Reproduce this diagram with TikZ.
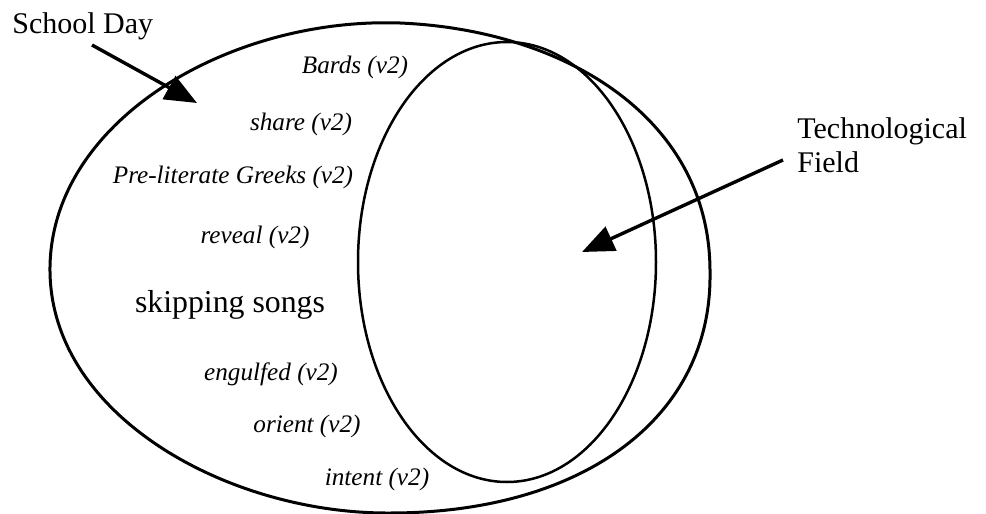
\documentclass[tikz,border=0pt]{standalone}
\usepackage{fontspec}
\setmainfont{Liberation Serif}
\usetikzlibrary{arrows.meta}

\begin{document}
\begin{tikzpicture}[x=0.5pt, y=-0.5pt, >={Triangle[length=16pt, width=13pt]},
    field/.style={line width=1.5pt},
    pointer/.style={->, line width=1.7pt},
    lbl/.style={anchor=base, inner sep=0pt, font=\fontsize{12.6}{14}\selectfont\itshape},
    title/.style={anchor=base west, inner sep=0pt, font=\fontsize{15}{17}\selectfont}]
    \useasboundingbox (0,0) rectangle (986,514);

    % school day field
    \draw[field] (50,267) .. controls (48,415) and (228,514) .. (390,513)
        .. controls (580,513) and (712,420) .. (710,273)
        .. controls (711,118) and (565,30) .. (400,23)
        .. controls (230,17) and (52,120) .. cycle;

    % technological field
    \draw[line width=1.25pt] (507,262) ellipse [x radius=149, y radius=220];

    \node[lbl] (bards)   at (355,73)  {Bards (v2)};
    \node[lbl] (share)   at (301,130) {share (v2)};
    \node[lbl] (greeks)  at (233,183) {Pre-literate Greeks (v2)};
    \node[lbl] (reveal)  at (255,243) {reveal (v2)};
    \node[anchor=base, inner sep=0pt, font=\fontsize{15.9}{18}\selectfont]
        (songs) at (230,312) {skipping songs};
    \node[lbl] (engulf)  at (271,380) {engulfed (v2)};
    \node[lbl] (orient)  at (307,432) {orient (v2)};
    \node[lbl] (intent)  at (377,485) {intent (v2)};

    \node[title] (schoolday) at (12,33)  {School Day};
    \node[title] (techA)     at (797,138) {Technological};
    \node[title] (techB)     at (797,172) {Field};

    \coordinate (sdtail) at (92,45);
    \coordinate (sdtip)  at (197,103);
    \coordinate (tftail) at (783,160);
    \coordinate (tftip)  at (582,252);

    \draw[pointer] (sdtail) -- (sdtip);
    \draw[pointer] (tftail) -- (tftip);
\end{tikzpicture}
\end{document}
